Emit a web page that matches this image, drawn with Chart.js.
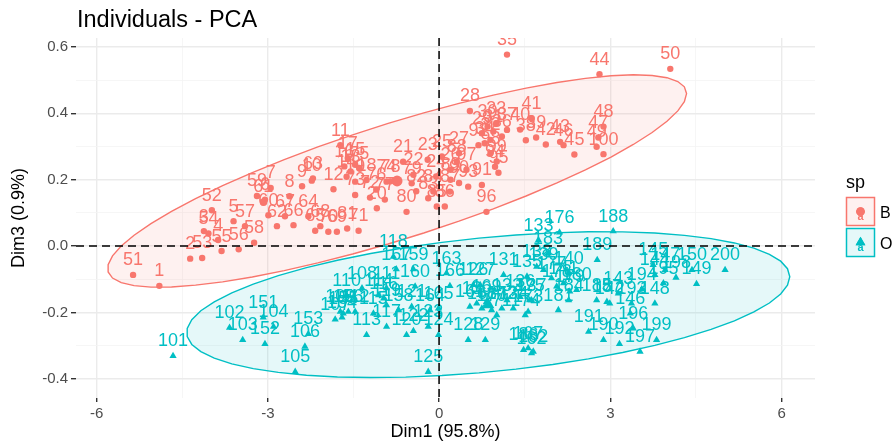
<!DOCTYPE html>
<html>
<head>
<meta charset="utf-8">
<script src="https://cdn.jsdelivr.net/npm/chart.js@4.4.1/dist/chart.umd.min.js"></script>
<style>
  html, body { margin: 0; padding: 0; background: #fff; }
  #wrap { width: 893px; height: 443px; }
</style>
</head>
<body>
<div id="wrap"><canvas id="pca" width="893" height="443"></canvas></div>
<script>
// Individuals on Dim1 / Dim3, coloured by species (sp)
const groups = ['B', 'O'];
const colors = { B: '#F8766D', O: '#00BFC4' };

// species B, rows 1..100
const bX = [
  -4.90, -4.36, -4.12, -3.87, -3.60, -3.05, -2.95, -2.62, -2.40, -2.23,
  -1.73, -1.85, -1.55, -1.62, -1.47, -1.66, -1.60, -1.27, -1.47, -1.09,
  -0.63, -0.45, -0.20, -0.05, 0.05, 0.20, 0.35, 0.54, 0.75, 0.85,
  0.95, 0.90, 1.00, 0.80, 1.19, 1.10, 1.19, 1.52, 1.70, 1.42,
  1.62, 1.87, 2.12, 2.81, 2.37, 2.18, 2.79, 2.88, 2.76, 4.05,
  -5.36, -3.98, -4.15, -4.04, -3.81, -3.51, -3.40, -3.24, -3.19, -2.99,
  -3.08, -2.84, -2.21, -2.29, -2.17, -2.55, -2.70, -2.08, -1.79, -1.94,
  -1.41, -1.21, -1.47, -0.92, -1.40, -1.10, -0.95, -0.85, -0.48, -0.57,
  -1.61, -0.40, -0.19, -0.10, -0.04, 0.10, 0.19, 0.31, 0.20, 0.35,
  0.75, 0.69, 0.51, 0.98, 1.04, 0.83, 0.48, 0.90, 1.01, 2.88
];
const bY = [
  -0.120, -0.038, 0.045, 0.018, 0.075, 0.140, 0.175, 0.150, 0.180, 0.197,
  0.304, 0.171, 0.225, 0.209, 0.245, 0.240, 0.265, 0.199, 0.194, 0.114,
  0.254, 0.215, 0.260, 0.210, 0.270, 0.230, 0.280, 0.407, 0.340, 0.360,
  0.345, 0.320, 0.370, 0.310, 0.577, 0.330, 0.350, 0.319, 0.327, 0.351,
  0.385, 0.306, 0.314, 0.518, 0.276, 0.304, 0.327, 0.360, 0.299, 0.534,
  -0.087, 0.108, -0.036, 0.038, -0.015, -0.010, 0.060, 0.010, 0.151, 0.093,
  0.133, 0.060, 0.204, 0.090, 0.046, 0.063, 0.090, 0.060, 0.043, 0.043,
  0.046, 0.146, 0.154, 0.194, 0.235, 0.170, 0.140, 0.195, 0.189, 0.103,
  0.053, 0.165, 0.144, 0.164, 0.119, 0.119, 0.164, 0.254, 0.200, 0.190,
  0.184, 0.304, 0.179, 0.239, 0.221, 0.103, 0.230, 0.280, 0.255, 0.277
];

// species O, rows 101..200
const oX = [
  -4.66, -3.67, -3.44, -2.90, -2.52, -2.35, -1.82, -1.35, -1.73, -1.62,
  -0.92, -1.47, -1.27, -1.06, -1.15, -0.97, -0.92, -0.80, -0.92, -0.57,
  -0.48, -0.45, -0.19, -0.01, -0.19, 0.60, 0.72, 0.51, 0.81, 0.66,
  1.13, 1.19, 1.74, 1.30, 1.54, 1.42, 1.62, 1.71, 1.83, 2.27,
  2.18, 2.99, 3.14, 3.78, 3.75, 3.35, 3.96, 3.78, 4.51, 4.43,
  -3.08, -3.05, -2.29, -1.70, -1.68, -1.59, -0.75, -0.71, -0.45, -0.42,
  0.54, 1.62, 0.13, -0.16, -0.01, 0.19, 1.56, 0.75, 0.83, 0.92,
  1.01, 1.10, 1.56, 1.51, 1.59, 2.11, 1.97, 2.06, 2.29, 2.41,
  2.09, 1.65, 1.91, 2.27, 2.76, 1.48, 2.94, 3.05, 2.77, 2.88,
  2.62, 3.16, 3.37, 3.55, 3.93, 3.40, 3.52, 4.15, 3.81, 5.01
];
const oY = [
  -0.331, -0.246, -0.283, -0.243, -0.379, -0.303, -0.221, -0.127, -0.198, -0.148,
  -0.127, -0.198, -0.268, -0.148, -0.203, -0.158, -0.243, -0.032, -0.178, -0.268,
  -0.183, -0.256, -0.243, -0.268, -0.379, -0.117, -0.117, -0.283, -0.283, -0.173,
  -0.087, -0.163, 0.018, -0.188, -0.092, -0.153, -0.163, -0.062, -0.072, -0.082,
  -0.112, -0.173, -0.143, -0.087, -0.057, -0.203, -0.072, -0.173, -0.114, -0.072,
  -0.215, -0.295, -0.265, -0.215, -0.203, -0.198, -0.070, -0.193, -0.070, -0.122,
  -0.183, -0.323, -0.082, -0.193, -0.188, -0.120, -0.308, -0.188, -0.168, -0.193,
  -0.208, -0.188, -0.198, -0.208, -0.163, 0.041, -0.097, -0.122, -0.137, -0.132,
  -0.193, -0.318, -0.022, -0.163, -0.163, -0.313, -0.168, 0.045, -0.042, -0.283,
  -0.258, -0.295, -0.173, -0.130, -0.112, -0.248, -0.318, -0.095, -0.283, -0.072
];

const xTicks = [-6, -3, 0, 3, 6];
const yTicks = [-0.4, -0.2, 0.0, 0.2, 0.4, 0.6];
const xRange = [-6.36, 6.585];
const yRange = [-0.458, 0.627];

const FONT = '"Liberation Sans", Arial, Helvetica, sans-serif';

const series = {
  B: { xs: bX, ys: bY, first: 1, style: 'circle', r: 3.2 },
  O: { xs: oX, ys: oY, first: 101, style: 'triangle', r: 4.2 }
};

function mean(a) { return a.reduce((s, v) => s + v, 0) / a.length; }

// F quantile with 2 numerator df has a closed form
function qf2(p, nu) { return nu / 2 * (Math.pow(1 - p, -2 / nu) - 1); }

// normal-theory 95% ellipse, same construction as stat_ellipse(type = "norm")
function ellipsePath(xs, ys, level, segments) {
  const n = xs.length, mx = mean(xs), my = mean(ys);
  let sxx = 0, syy = 0, sxy = 0;
  for (let i = 0; i < n; i++) {
    const dx = xs[i] - mx, dy = ys[i] - my;
    sxx += dx * dx; syy += dy * dy; sxy += dx * dy;
  }
  sxx /= n - 1; syy /= n - 1; sxy /= n - 1;
  const r11 = Math.sqrt(sxx), r12 = sxy / r11, r22 = Math.sqrt(syy - r12 * r12);
  const rad = Math.sqrt(2 * qf2(level, n - 1));
  const pts = [];
  for (let k = 0; k <= segments; k++) {
    const t = 2 * Math.PI * k / segments;
    const c = Math.cos(t), s = Math.sin(t);
    pts.push({ x: mx + rad * c * r11, y: my + rad * (c * r12 + s * r22) });
  }
  return pts;
}

const ellipses = {};
groups.forEach(g => { ellipses[g] = ellipsePath(series[g].xs, series[g].ys, 0.95, 51); });

function hexA(hex, a) {
  const v = parseInt(hex.slice(1), 16);
  return `rgba(${v >> 16},${(v >> 8) & 255},${v & 255},${a})`;
}

const datasets = [];
groups.forEach(g => {
  const s = series[g];
  datasets.push({
    label: g,
    data: s.xs.map((x, i) => ({ x, y: s.ys[i] })),
    names: s.xs.map((_, i) => String(s.first + i)),
    group: g,
    pointStyle: s.style,
    pointRadius: s.r,
    pointHoverRadius: s.r,
    backgroundColor: colors[g],
    borderColor: colors[g],
    borderWidth: 0
  });
});
// group centres drawn as bigger markers
groups.forEach(g => {
  const s = series[g];
  datasets.push({
    label: g + ' mean',
    data: [{ x: mean(s.xs), y: mean(s.ys) }],
    pointStyle: s.style,
    pointRadius: s.r * 1.7,
    backgroundColor: colors[g],
    borderColor: colors[g],
    borderWidth: 0
  });
});

const isMajorX = v => Math.abs(v / 3 - Math.round(v / 3)) < 1e-6;
const isMajorY = v => Math.round(v * 10) % 2 === 0;

const ellipsePlugin = {
  id: 'groupEllipses',
  beforeDatasetsDraw(chart) {
    const { ctx, chartArea: a, scales: { x, y } } = chart;
    ctx.save();
    ctx.beginPath();
    ctx.rect(a.left, a.top, a.right - a.left, a.bottom - a.top);
    ctx.clip();
    groups.forEach(g => {
      ctx.beginPath();
      ellipses[g].forEach((p, k) => {
        const px = x.getPixelForValue(p.x), py = y.getPixelForValue(p.y);
        if (k === 0) ctx.moveTo(px, py); else ctx.lineTo(px, py);
      });
      ctx.closePath();
      ctx.fillStyle = hexA(colors[g], 0.1);
      ctx.fill();
      ctx.lineWidth = 1.4;
      ctx.strokeStyle = colors[g];
      ctx.stroke();
    });
    ctx.restore();
  }
};

const labelPlugin = {
  id: 'pointLabels',
  afterDatasetsDraw(chart) {
    const { ctx, chartArea: a, scales: { x, y } } = chart;
    ctx.save();
    ctx.beginPath();
    ctx.rect(a.left, a.top, a.right - a.left, a.bottom - a.top);
    ctx.clip();
    ctx.font = '18px ' + FONT;
    ctx.textAlign = 'center';
    ctx.textBaseline = 'alphabetic';
    chart.data.datasets.forEach((ds, i) => {
      if (!ds.names) return;
      const meta = chart.getDatasetMeta(i);
      ctx.fillStyle = colors[ds.group];
      meta.data.forEach((el, j) => ctx.fillText(ds.names[j], el.x, el.y - 9.5));
    });
    // dashed reference axes through the origin
    ctx.setLineDash([8, 5]);
    ctx.lineWidth = 1.5;
    ctx.strokeStyle = '#000';
    const x0 = x.getPixelForValue(0), y0 = y.getPixelForValue(0);
    ctx.beginPath();
    ctx.moveTo(x0, a.top); ctx.lineTo(x0, a.bottom);
    ctx.moveTo(a.left, y0); ctx.lineTo(a.right, y0);
    ctx.stroke();
    ctx.restore();
  }
};

const decorPlugin = {
  id: 'decor',
  afterDraw(chart) {
    const { ctx } = chart;
    ctx.save();
    ctx.fillStyle = '#000';
    ctx.font = '23.5px ' + FONT;
    ctx.textAlign = 'left';
    ctx.textBaseline = 'alphabetic';
    ctx.fillText('Individuals - PCA', 77, 27);

    // legend for sp
    ctx.font = '18px ' + FONT;
    ctx.fillText('sp', 846, 188);
    groups.forEach((g, i) => {
      const top = 197.5 + i * 31, left = 846.5, size = 28;
      ctx.fillStyle = hexA(colors[g], 0.1);
      ctx.fillRect(left, top, size, size);
      ctx.lineWidth = 1.5;
      ctx.strokeStyle = colors[g];
      ctx.strokeRect(left, top, size, size);
      const cx = left + size / 2, cy = top + size / 2;
      ctx.fillStyle = colors[g];
      ctx.font = 'bold 11px ' + FONT;
      ctx.textAlign = 'center';
      ctx.fillText('a', cx, cy + 8);
      Chart.helpers.drawPoint(ctx, { pointStyle: series[g].style, radius: series[g].r * 1.35, rotation: 0, borderWidth: 0 }, cx, cy);
      ctx.fill();
      ctx.fillStyle = '#000';
      ctx.font = '16px ' + FONT;
      ctx.textAlign = 'left';
      ctx.fillText(g, 880, cy + 6);
    });
    ctx.restore();
  }
};

new Chart(document.getElementById('pca'), {
  type: 'scatter',
  data: { datasets },
  options: {
    responsive: false,
    animation: false,
    devicePixelRatio: 1,
    layout: { padding: { top: 38, right: 78, left: 0, bottom: 0 } },
    plugins: { legend: { display: false }, tooltip: { enabled: false } },
    scales: {
      x: {
        type: 'linear',
        min: xRange[0], max: xRange[1],
        afterFit: s => { s.height = 45; },
        border: { display: false },
        grid: {
          color: c => isMajorX(c.tick.value) ? '#EBEBEB' : '#F4F4F4',
          lineWidth: c => isMajorX(c.tick.value) ? 1.4 : 0.8,
          tickColor: c => isMajorX(c.tick.value) ? '#333333' : 'rgba(0,0,0,0)',
          tickLength: 4
        },
        ticks: {
          stepSize: 1.5,
          includeBounds: false,
          autoSkip: false,
          maxRotation: 0,
          padding: 3,
          color: '#4D4D4D',
          font: { size: 15, family: FONT },
          callback: v => xTicks.includes(v) ? String(v) : ''
        },
        title: { display: true, text: 'Dim1 (95.8%)', color: '#000', font: { size: 18, family: FONT }, padding: 0 }
      },
      y: {
        type: 'linear',
        min: yRange[0], max: yRange[1],
        afterFit: s => { s.width = 76; },
        border: { display: false },
        grid: {
          color: c => isMajorY(c.tick.value) ? '#EBEBEB' : '#F4F4F4',
          lineWidth: c => isMajorY(c.tick.value) ? 1.4 : 0.8,
          tickColor: c => isMajorY(c.tick.value) ? '#333333' : 'rgba(0,0,0,0)',
          tickLength: 5
        },
        ticks: {
          stepSize: 0.1,
          includeBounds: false,
          autoSkip: false,
          padding: 3,
          color: '#4D4D4D',
          font: { size: 15, family: FONT },
          callback: v => {
            const t = yTicks.find(k => Math.abs(k - v) < 1e-6);
            return t === undefined ? '' : t.toFixed(1);
          }
        },
        title: { display: true, text: 'Dim3 (0.9%)', color: '#000', font: { size: 18, family: FONT }, padding: { top: 8, bottom: 0 } }
      }
    }
  },
  plugins: [ellipsePlugin, labelPlugin, decorPlugin]
});
</script>
</body>
</html>
